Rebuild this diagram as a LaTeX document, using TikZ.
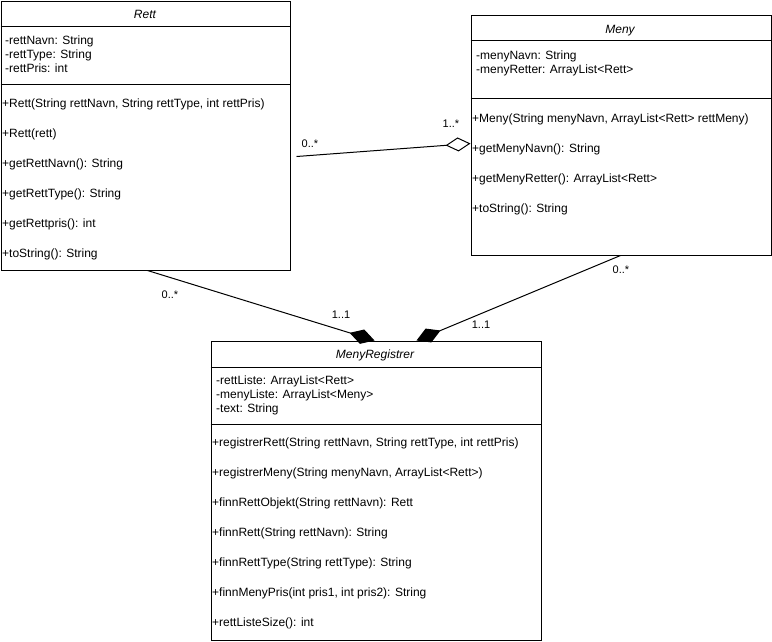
\documentclass[tikz,border=0pt]{standalone}
\usepackage{fontspec}
\setmainfont{Liberation Sans}
\usetikzlibrary{positioning, arrows.meta}

\begin{document}
\begin{tikzpicture}[x=1pt, y=-1pt,
    classbox/.style={draw, line width=1pt, anchor=north west, inner sep=0pt},
    member/.style={anchor=base west, inner sep=0pt, font=\fontsize{12}{14}\selectfont},
    classname/.style={anchor=base, inner sep=0pt, font=\fontsize{12}{14}\selectfont\itshape},
    mult/.style={inner sep=0pt, font=\fontsize{11}{13}\selectfont},
    conn/.style={line width=1pt}]
    \useasboundingbox (0,0) rectangle (772,641);
    % Rett
    \node[classbox, minimum width=289pt, minimum height=269pt] (rett) at (0.5,0.5) {};
    \draw[conn] ([yshift=-26pt]rett.north west) -- ([yshift=-26pt]rett.north east);
    \draw[conn] ([yshift=-84pt]rett.north west) -- ([yshift=-84pt]rett.north east);
    \node[classname] (rett-name) at (145,18) {Rett};
    \foreach \txt [count=\i from 0] in {{-rettNavn: String}, {-rettType: String}, {-rettPris: int}}
        \node[member] (rett-a\i) at (5,44+14*\i) {\txt};
    \foreach \txt [count=\i from 0] in {{+Rett(String rettNavn, String rettType, int rettPris)}, {+Rett(rett)},
        {+getRettNavn(): String}, {+getRettType(): String}, {+getRettpris(): int}, {+toString(): String}}
        \node[member] (rett-m\i) at (2,107+30*\i) {\txt};
    % Meny
    \node[classbox, minimum width=300pt, minimum height=240pt] (meny) at (470.5,14.5) {};
    \draw[conn] ([yshift=-26pt]meny.north west) -- ([yshift=-26pt]meny.north east);
    \draw[conn] ([yshift=-84pt]meny.north west) -- ([yshift=-84pt]meny.north east);
    \node[classname] (meny-name) at (620,33) {Meny};
    \foreach \txt [count=\i from 0] in {{-menyNavn: String}, {-menyRetter: ArrayList<Rett>}}
        \node[member] (meny-a\i) at (476,59+14*\i) {\txt};
    \foreach \txt [count=\i from 0] in {{+Meny(String menyNavn, ArrayList<Rett> rettMeny)}, {+getMenyNavn(): String},
        {+getMenyRetter(): ArrayList<Rett>}, {+toString(): String}}
        \node[member] (meny-m\i) at (472,122+30*\i) {\txt};
    % MenyRegistrer
    \node[classbox, minimum width=330pt, minimum height=299pt] (reg) at (210.5,340.5) {};
    \draw[conn] ([yshift=-27pt]reg.north west) -- ([yshift=-27pt]reg.north east);
    \draw[conn] ([yshift=-84pt]reg.north west) -- ([yshift=-84pt]reg.north east);
    \node[classname] (reg-name) at (375,358) {MenyRegistrer};
    \foreach \txt [count=\i from 0] in {{-rettListe: ArrayList<Rett>}, {-menyListe: ArrayList<Meny>}, {-text: String}}
        \node[member] (reg-a\i) at (216,384+14*\i) {\txt};
    \foreach \txt [count=\i from 0] in {{+registrerRett(String rettNavn, String rettType, int rettPris)},
        {+registrerMeny(String menyNavn, ArrayList<Rett>)}, {+finnRettObjekt(String rettNavn): Rett},
        {+finnRett(String rettNavn): String}, {+finnRettType(String rettType): String},
        {+finnMenyPris(int pris1, int pris2): String}, {+rettListeSize(): int}}
        \node[member] (reg-m\i) at (212,446+30*\i) {\txt};
    % Associations
    \draw[conn, -{Diamond[open, length=25pt, width=14pt]}] ([shift={(6,21)}]rett.east) -- ([yshift=-8.5pt]meny.west);
    \node[mult] (m1) at (310,144) {0..*};
    \node[mult] (m2) at (451,124) {1..*};
    \draw[conn, -{Diamond[length=26pt, width=15pt]}] ([xshift=147pt]rett.south west) -- ([xshift=164pt]reg.north west);
    \node[mult] (m3) at (170,295) {0..*};
    \node[mult] (m4) at (341,315) {1..1};
    \draw[conn, -{Diamond[length=26pt, width=15pt]}] ([xshift=150pt]meny.south west) -- ([xshift=206pt]reg.north west);
    \node[mult] (m5) at (621,270) {0..*};
    \node[mult] (m6) at (481,325) {1..1};
\end{tikzpicture}
\end{document}
